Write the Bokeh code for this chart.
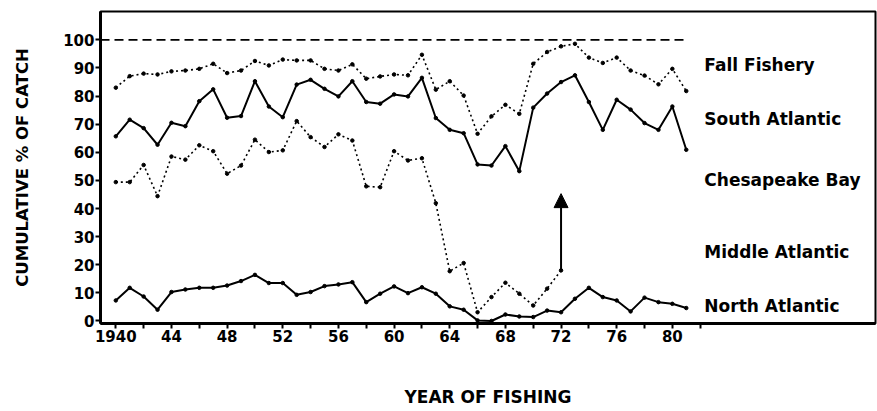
from bokeh.plotting import figure
from bokeh.models import Range1d, FixedTicker, Arrow, NormalHead, ColumnDataSource
from bokeh.core.properties import value
from bokeh.embed import file_html
from bokeh.resources import INLINE

years = list(range(1940, 1982))
fall_fishery = [83.0, 87.1, 88.0, 87.7, 88.8, 89.1, 89.7, 91.5, 88.2, 89.1, 92.5, 90.9, 93.0, 92.7,
                92.7, 89.7, 89.1, 91.3, 86.2, 87.0, 87.7, 87.4, 94.7, 82.3, 85.3, 80.2, 66.6, 72.8,
                76.9, 73.7, 91.5, 95.7, 97.7, 98.6, 93.7, 91.8, 93.7, 89.1, 87.3, 84.2, 89.7, 81.8]
south_atlantic = [65.7, 71.6, 68.6, 62.7, 70.5, 69.3, 78.2, 82.4, 72.3, 72.9, 85.3, 76.3, 72.5, 84.1,
                  85.8, 82.6, 79.9, 85.3, 77.9, 77.3, 80.6, 79.9, 86.5, 72.2, 68.0, 66.8, 55.7, 55.3,
                  62.2, 53.3, 75.9, 80.9, 85.0, 87.4, 77.9, 68.0, 78.7, 75.2, 70.4, 68.0, 76.3, 60.9]
ches_years = list(range(1940, 1973))
chesapeake = [49.4, 49.4, 55.5, 44.4, 58.5, 57.4, 62.5, 60.4, 52.4, 55.3, 64.5, 60.1, 60.7, 71.1,
              65.4, 61.9, 66.4, 64.2, 47.9, 47.6, 60.4, 57.1, 57.9, 41.9, 17.7, 20.6, 3.1, 8.5,
              13.6, 9.7, 5.5, 11.5, 18.0]
north_atlantic = [7.3, 11.8, 8.7, 4.0, 10.3, 11.2, 11.8, 11.8, 12.6, 14.2, 16.4, 13.5, 13.5, 9.3,
                  10.3, 12.4, 13.0, 13.8, 6.7, 9.7, 12.3, 9.9, 12.0, 9.7, 5.2, 4.0, 0.2, 0.0,
                  2.3, 1.6, 1.4, 3.7, 3.1, 7.9, 11.8, 8.5, 7.3, 3.4, 8.3, 6.7, 6.1, 4.6]
total_value = 100
arrow_top = 45.3

region_labels = ["Fall Fishery", "South Atlantic", "Chesapeake Bay", "Middle Atlantic", "North Atlantic"]
region_label_y = [90.9, 72.0, 50.0, 24.4, 5.5]
region_label_x = 1982.3

x_tick_values = list(range(1940, 1984, 2))
x_tick_labels = {1940: "1940", 1944: "44", 1948: "48", 1952: "52", 1956: "56", 1960: "60",
                 1964: "64", 1968: "68", 1972: "72", 1976: "76", 1980: "80"}
y_tick_values = list(range(0, 101, 10))

X_START, X_END = 1938.9, 1994.6
Y_START, Y_END = -0.9, 110.1

FONT = "DejaVu Sans"

p = figure(width=877, height=411, output_backend="svg", toolbar_location=None,
           x_range=Range1d(X_START, X_END), y_range=Range1d(Y_START, Y_END),
           min_border_left=100, min_border_right=2, min_border_top=11, min_border_bottom=88)
p.grid.visible = False
p.background_fill_color = "white"
p.border_fill_color = "white"
p.outline_line_color = "black"
p.outline_line_width = 2

for ax in (p.xaxis[0], p.yaxis[0]):
    ax.axis_line_width = 3
    ax.axis_line_color = "black"
    ax.major_tick_line_width = 2
    ax.major_tick_in = 0
    ax.major_tick_out = 5
    ax.minor_tick_line_color = None
    ax.major_label_text_font = FONT
    ax.major_label_text_font_style = "bold"
    ax.major_label_text_color = "black"
    ax.major_label_text_font_size = "15px"
    ax.axis_label_text_font = FONT
    ax.axis_label_text_font_style = "bold"
    ax.axis_label_text_color = "black"

p.xaxis.ticker = FixedTicker(ticks=x_tick_values)
p.xaxis.major_label_overrides = {t: x_tick_labels.get(t, "") for t in x_tick_values}
p.xaxis.major_label_standoff = 1
p.xaxis.axis_label = "YEAR OF FISHING"
p.xaxis.axis_label_text_font_size = "17px"
p.xaxis.axis_label_standoff = 42

p.yaxis.ticker = FixedTicker(ticks=y_tick_values)
p.yaxis.major_label_standoff = 1
p.yaxis.axis_label = "CUMULATIVE % OF CATCH"
p.yaxis.axis_label_text_font_size = "16.5px"
p.yaxis.axis_label_standoff = 28

# 100 % reference line
p.line([X_START, years[-1]], [total_value, total_value], line_color="black", line_width=1.6,
       line_dash="9 5")

# Fall fishery boundary (dotted)
p.line(years, fall_fishery, line_color="black", line_width=1.6, line_dash="2 3")
p.scatter(years, fall_fishery, size=3.5, color="black")
# South Atlantic boundary (solid)
p.line(years, south_atlantic, line_color="black", line_width=2)
p.scatter(years, south_atlantic, size=3.5, color="black")
# Chesapeake Bay boundary (dotted)
p.line(ches_years, chesapeake, line_color="black", line_width=1.6, line_dash="2 3")
p.scatter(ches_years, chesapeake, size=3.5, color="black")
# North Atlantic boundary (solid)
p.line(years, north_atlantic, line_color="black", line_width=2)
p.scatter(years, north_atlantic, size=3.5, color="black")

p.add_layout(Arrow(end=NormalHead(size=14, fill_color="black", line_color="black"),
                   x_start=ches_years[-1], y_start=chesapeake[-1],
                   x_end=ches_years[-1], y_end=arrow_top, line_width=2, line_color="black"))

src = ColumnDataSource(dict(x=[region_label_x] * len(region_labels), y=region_label_y,
                            text=region_labels))
p.text(x="x", y="y", text="text", source=src, text_font=value(FONT), text_font_style="bold",
       text_font_size="17px", text_baseline="middle", text_align="left", text_color="black")

open("out.html", "w").write(file_html(p, INLINE))
